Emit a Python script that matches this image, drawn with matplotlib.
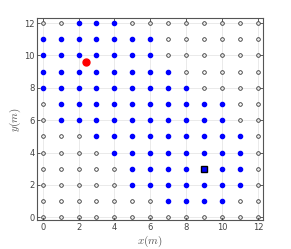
import numpy as np
import matplotlib.pyplot as plt

# grid rows from y=12 down to y=0, columns x=0..12; 1 = covered (blue), 0 = empty
rows = [
    "0011100000000",
    "1111111000000",
    "1111111000000",
    "1111111100000",
    "1111111110000",
    "0111111111100",
    "0111111111100",
    "0001111111110",
    "0000111111110",
    "0000011111110",
    "0000011111110",
    "0000000111100",
    "0000000000000",
]
ys_rows = list(range(12, -1, -1))
red_pt = (2.4, 9.6)
square_pt = (9, 3)
ticks = [0, 2, 4, 6, 8, 10, 12]

xb, yb, xo, yo = [], [], [], []
for y, r in zip(ys_rows, rows):
    for x, c in enumerate(r):
        if c == "1":
            xb.append(x); yb.append(y)
        else:
            xo.append(x); yo.append(y)

plt.rcParams['mathtext.fontset'] = 'cm'
fig = plt.figure(figsize=(2.91, 2.49), dpi=100)
ax = fig.add_axes([0.128, 0.116, 0.777, 0.811])

ax.grid(True, color='#e6e6e6', linewidth=0.6, zorder=0)
ax.plot(xo, yo, 'o', ms=2.6, mfc='none', mec='#333333', mew=0.6, zorder=2)
ax.plot(xb, yb, 'o', ms=3.0, color='#0000ff', zorder=3)
ax.plot(square_pt[0], square_pt[1], 's', ms=4.5, mfc='#0000ff', mec='black', mew=1.0, zorder=4)
ax.plot(red_pt[0], red_pt[1], 'o', ms=5, color='#ff0000', zorder=5)

ax.set_xlim(-0.3, 12.3)
ax.set_ylim(-0.17, 12.3)
ax.set_xticks(ticks)
ax.set_yticks(ticks)
ax.tick_params(direction='in', length=2.5, width=0.6, labelsize=6, colors='#444444',
               top=True, right=True, pad=2)
for s in ax.spines.values():
    s.set_color('#555555')
    s.set_linewidth(0.8)
ax.set_xlabel('$x(m)$', fontsize=8, color='#555555', labelpad=1)
ax.set_ylabel('$y(m)$', fontsize=8, color='#555555', labelpad=1)

plt.savefig('out.png', dpi=100)
